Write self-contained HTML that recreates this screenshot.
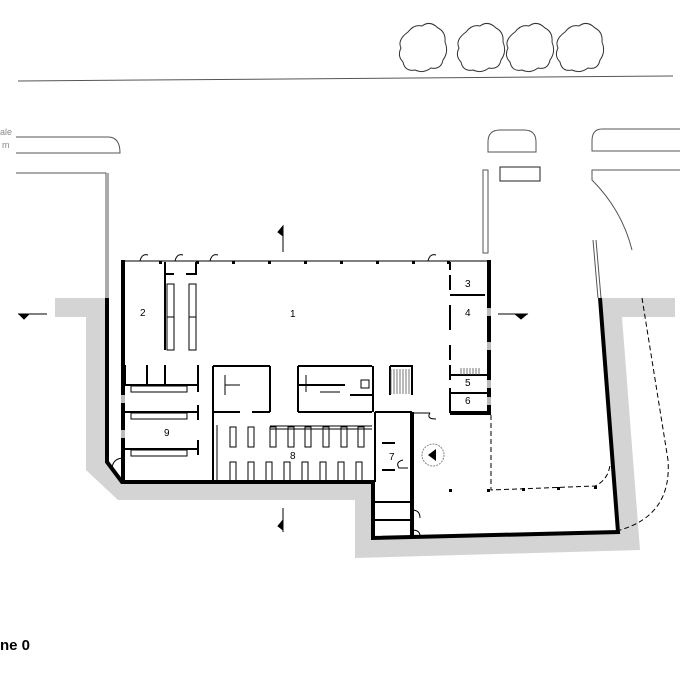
<!DOCTYPE html>
<html><head><meta charset="utf-8"><style>
html,body{margin:0;padding:0;background:#fff;width:700px;height:700px;overflow:hidden}
svg{display:block}
text{font-family:"Liberation Sans",sans-serif}
</style></head><body>
<svg width="700" height="700" viewBox="0 0 700 700" xmlns="http://www.w3.org/2000/svg">
<!-- trees -->
<g fill="none" stroke="#333" stroke-width="1">
<path d="M408 32 q6-8 14-6 q8-6 16 2 q8 4 7 14 q4 10-2 18 q-2 10-12 8 q-8 6-16 2 q-10 2-12-8 q-6-6-2-14 q-4-8 7-16z"/>
<path d="M466 32 q6-8 14-6 q8-6 16 2 q8 4 7 14 q4 10-2 18 q-2 10-12 8 q-8 6-16 2 q-10 2-12-8 q-6-6-2-14 q-4-8 7-16z"/>
<path d="M515 32 q6-8 14-6 q8-6 16 2 q8 4 7 14 q4 10-2 18 q-2 10-12 8 q-8 6-16 2 q-10 2-12-8 q-6-6-2-14 q-4-8 7-16z"/>
<path d="M565 32 q6-8 14-6 q8-6 16 2 q8 4 7 14 q4 10-2 18 q-2 10-12 8 q-8 6-16 2 q-10 2-12-8 q-6-6-2-14 q-4-8 7-16z"/>
</g>
<!-- street -->
<g fill="none" stroke="#555" stroke-width="1">
<line x1="18" y1="81" x2="673" y2="76"/>
<path d="M16 137 H108 q12 0 12 16 H16"/>
<path d="M488 152 V142 q0-12 12-12 h24 q12 0 12 12 V152 Z"/>
<path d="M680 129 H602 q-10 0-10 12 V151 H680"/>
<rect x="500" y="167" width="40" height="14" stroke="#222"/>
<path d="M16 173 H106 V298 M108 173 V298" />
<path d="M483 170 V253 H488 V170 Z"/>
<path d="M680 170 H592 V180 q30 30 40 70"/>
<path d="M593 240 L598 298 M596 240 L601 298"/>
<text x="0" y="135" font-size="9" fill="#888" stroke="none">ale</text>
<text x="2" y="148" font-size="9" fill="#888" stroke="none">m</text>
</g>
<!-- gray band -->
<path d="M55 298 H107 V462 L122 482 H373 V538 L618 532 L600 298 H675 V317 H622 L640 550 L355 558 V500 H118 L86 470 V317 H55 Z" fill="#d4d4d4"/>
<!-- white interior over gray -->
<path d="M122 260 H490 V415 H600 L618 532 L373 538 V482 H122 Z" fill="#fff"/>
<!-- thick walls -->
<g fill="none" stroke="#000" stroke-width="4" stroke-linejoin="miter">
<path d="M107 298 V462 L122 482 H373 V538 L618 532 L600 298"/>
<line x1="123" y1="260" x2="123" y2="482"/>
<line x1="489" y1="260" x2="489" y2="415"/>
<line x1="450" y1="413" x2="490" y2="413"/>
<line x1="412" y1="412" x2="412" y2="538"/>
</g>
<!-- facade -->
<g stroke="#000" stroke-width="1" fill="none">
<line x1="122" y1="261" x2="490" y2="261"/>
<path d="M140 261 q2-8 8-6 M175 261 q2-8 8-6 M210 261 q2-8 8-6 M428 261 q2-8 8-6"/>
</g>
<g fill="#000">
<rect x="159" y="261" width="3" height="3"/><rect x="196" y="261" width="3" height="3"/><rect x="232" y="261" width="3" height="3"/><rect x="268" y="261" width="3" height="3"/><rect x="304" y="261" width="3" height="3"/><rect x="340" y="261" width="3" height="3"/><rect x="376" y="261" width="3" height="3"/><rect x="412" y="261" width="3" height="3"/><rect x="447" y="261" width="3" height="3"/>
</g>
<!-- interior walls -->
<g stroke="#000" stroke-width="2" fill="none">
<line x1="165" y1="262" x2="165" y2="350"/>
<path d="M166 274 H174 M186 274 H196 V262"/>
<path d="M125 365 V385 M147 365 V385 M165 365 V385 M198 365 V392 M125 385 H198"/>
<path d="M125 412 H198 M198 405 V420 M125 449 H198 M198 440 V455"/>
<path d="M213 366 V482 M213 366 H270 M270 366 V412 M213 412 H240 M252 412 H270"/>
<path d="M298 366 H372 M298 366 V412 M298 412 H372 M298 385 H345"/>
<path d="M373 366 V412 M350 395 H372"/>
<path d="M390 366 H412 V395 M390 366 V395"/>
<path d="M375 412 H412 M375 412 V482 M382 443 H395 M382 470 H395 M375 502 H412 M375 520 H412"/>
<path d="M450 262 V270 M450 275 V290 M450 305 V330 M450 345 V360 M450 365 V380 M450 388 V413"/>
<path d="M450 295 H485 M450 375 H487 M450 393 H487"/>
</g>
<g stroke="#000" stroke-width="1" fill="none">
<rect x="167" y="284" width="7" height="66"/><rect x="189" y="284" width="7" height="66"/>
<line x1="167" y1="317" x2="174" y2="317"/><line x1="189" y1="317" x2="196" y2="317"/>
<rect x="131" y="386" width="56" height="6"/><rect x="131" y="413" width="56" height="6"/><rect x="131" y="450" width="56" height="6"/>
<line x1="217" y1="425" x2="217" y2="482"/>
<path d="M270 426 H372 M270 429 H372"/>
<rect x="230" y="427" width="6" height="20"/><rect x="248" y="427" width="6" height="20"/><rect x="270" y="427" width="6" height="20"/><rect x="288" y="427" width="6" height="20"/><rect x="305" y="427" width="6" height="20"/><rect x="323" y="427" width="6" height="20"/><rect x="341" y="427" width="6" height="20"/><rect x="358" y="427" width="6" height="20"/>
<rect x="230" y="462" width="6" height="20"/><rect x="248" y="462" width="6" height="20"/><rect x="266" y="462" width="6" height="20"/><rect x="284" y="462" width="6" height="20"/><rect x="302" y="462" width="6" height="20"/><rect x="320" y="462" width="6" height="20"/><rect x="338" y="462" width="6" height="20"/><rect x="356" y="462" width="6" height="20"/>
<rect x="361" y="380" width="8" height="8"/>
<path d="M225 385 H240 M225 375 V395 M306 375 V392 M320 392 H340"/>
<path d="M413 413 H430 M430 413 q-4 6 6 6 M403 460 q-8 2-4 8 h9"/>
<path d="M412 510 q8 0 8 8 M412 530 q8 0 8 6 M112 470 q0-12 12-12"/>
<circle cx="433" cy="455" r="11" stroke="#888" stroke-dasharray="2,1"/>
<path d="M491 415 V490 L595 486 Q608 480 610 465" stroke-dasharray="5,3"/>
<path d="M642 298 L668 460 Q672 515 620 530" stroke-dasharray="5,3"/>
</g>
<path d="M428 455 L436 449 V461 Z" fill="#000"/>
<g stroke="#555" stroke-width="0.8">
<path d="M391 369 V394 M394 369 V394 M397 369 V394 M400 369 V394 M403 369 V394 M406 369 V394 M409 369 V394"/>
<path d="M461 368 V375 M464 368 V375 M467 368 V375 M470 368 V375 M473 368 V375 M476 368 V375 M479 368 V375"/>
</g>
<g fill="#000">
<rect x="449" y="489" width="3" height="3"/><rect x="487" y="489" width="3" height="3"/><rect x="522" y="488" width="3" height="3"/><rect x="557" y="487" width="3" height="3"/><rect x="594" y="486" width="3" height="3"/>
</g>
<g fill="#bbb"><rect x="121" y="395" width="4" height="8"/><rect x="121" y="430" width="4" height="8"/><rect x="487" y="308" width="4" height="8"/><rect x="487" y="342" width="4" height="8"/><rect x="487" y="380" width="4" height="8"/><rect x="487" y="397" width="4" height="8"/></g>
<!-- section markers -->
<g stroke="#000" stroke-width="1" fill="#000">
<line x1="18" y1="314" x2="47" y2="314"/><path d="M19 314 h10 l-5 5z"/>
<line x1="498" y1="314" x2="528" y2="314"/><path d="M515 314 h12 l-6 5z"/>
<line x1="283" y1="226" x2="283" y2="252"/><path d="M283 226 v10 l-5 -4z"/>
<line x1="283" y1="508" x2="283" y2="532"/><path d="M283 520 v10 l-5 -4z"/>
</g>
<!-- labels -->
<g font-size="10" fill="#000">
<text x="290" y="317">1</text><text x="140" y="316">2</text><text x="465" y="287">3</text><text x="465" y="316">4</text><text x="465" y="386">5</text><text x="465" y="404">6</text><text x="389" y="460">7</text><text x="290" y="459">8</text><text x="164" y="436">9</text>
</g>
<text x="0" y="650" font-size="15" font-weight="bold">ne 0</text>
</svg>
</body></html>
